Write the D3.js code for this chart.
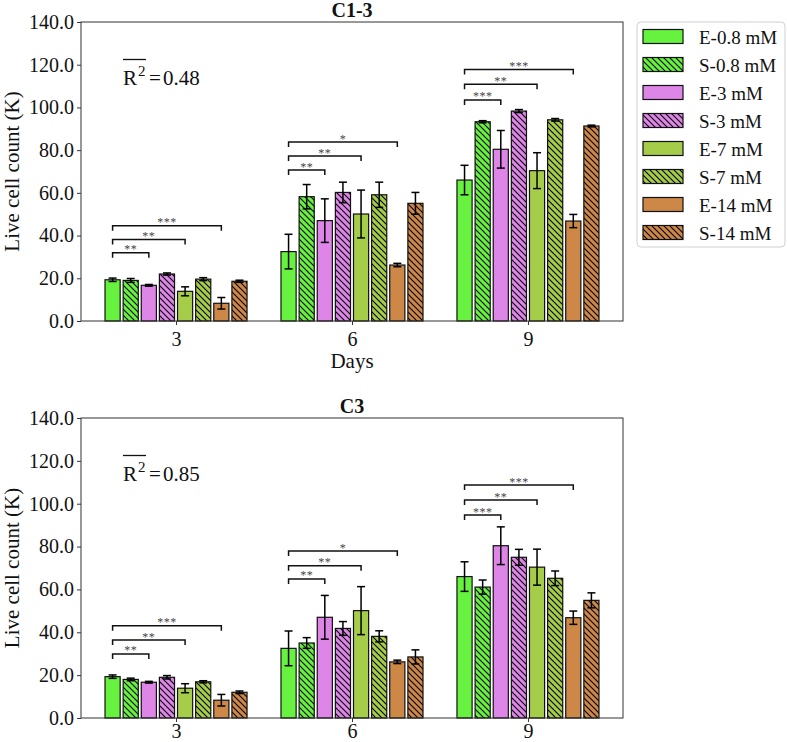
<!DOCTYPE html>
<html>
<head>
<meta charset="utf-8">
<script src="https://cdn.jsdelivr.net/npm/d3@7"></script>
<style>
  html, body { margin: 0; padding: 0; background: #fff; }
  svg { display: block; }
  text { font-family: "Liberation Serif", "Times New Roman", serif; }
</style>
</head>
<body>
<svg id="chart" width="787" height="742"></svg>
<script>
// ---------------- data ----------------
const days = ["3", "6", "9"];
const seriesNames = ["E-0.8 mM", "S-0.8 mM", "E-3 mM", "S-3 mM", "E-7 mM", "S-7 mM", "E-14 mM", "S-14 mM"];
const seriesColors = ["#66f23f", "#66f23f", "#de85e8", "#de85e8", "#a6cd4a", "#a6cd4a", "#cd8746", "#cd8746"];
const seriesHatched = [false, true, false, true, false, true, false, true];
const yTicks = [0, 20, 40, 60, 80, 100, 120, 140];

// C1-3 (rows = days, columns = series)
const c13Values = [
  [19.3, 19.0, 16.7, 22.0, 13.9, 19.6, 8.3, 18.6],
  [32.5, 58.2, 47.0, 60.2, 50.1, 59.1, 26.2, 55.1],
  [66.0, 93.3, 80.4, 98.3, 70.4, 94.2, 46.8, 91.3]
];
const c13Errors = [
  [0.8, 0.9, 0.4, 0.5, 2.1, 0.7, 2.7, 0.5],
  [8.1, 5.7, 10.2, 4.8, 11.2, 5.9, 0.8, 5.1],
  [6.9, 0.5, 8.8, 0.7, 8.4, 0.6, 3.1, 0.4]
];
// C3
const c3Values = [
  [19.3, 18.0, 16.7, 19.0, 13.9, 16.9, 8.3, 12.0],
  [32.5, 35.0, 47.0, 41.8, 50.1, 38.1, 26.2, 28.5],
  [66.0, 61.1, 80.4, 75.0, 70.4, 65.2, 46.8, 54.9]
];
const c3Errors = [
  [0.8, 0.6, 0.4, 0.8, 2.1, 0.5, 2.7, 0.6],
  [8.1, 2.5, 10.2, 3.2, 11.2, 2.6, 0.8, 3.3],
  [6.9, 3.3, 8.8, 3.7, 8.4, 3.4, 3.1, 3.5]
];

// significance brackets: pairs of series indices compared, heights (per day) and labels
const bracketPairs = [[0, 2], [0, 4], [0, 6]];
const bracketStars = [["**", "**", "***"], ["**", "**", "*"], ["***", "**", "***"]];
const c13BracketY = [[32.0, 38.2, 44.6], [70.7, 77.2, 83.8], [103.5, 110.8, 117.8]];
const c3BracketY = [[29.9, 36.4, 43.1], [64.9, 71.1, 77.9], [94.7, 101.7, 108.7]];

const r2Values = ["0.48", "0.85"];
const titles = ["C1-3", "C3"];

// ---------------- layout ----------------
const svg = d3.select("#chart");
const plotLeft = 81, plotRight = 623;
const panels = [
  { top: 22, bottom: 321, title: titles[0], values: c13Values, errors: c13Errors, brackets: c13BracketY, r2: r2Values[0], xlabel: "Days", xpad: 7 },
  { top: 418, bottom: 718, title: titles[1], values: c3Values, errors: c3Errors, brackets: c3BracketY, r2: r2Values[1], xlabel: null, xpad: 2 }
];
const barPitch = 0.103, barWidth = 0.086;

const x = d3.scaleLinear().domain([-0.54, 2.54]).range([plotLeft, plotRight]);

// hatch patterns
const defs = svg.append("defs");
seriesColors.forEach((c, i) => {
  const p = defs.append("pattern")
    .attr("id", "hatch" + i)
    .attr("patternUnits", "userSpaceOnUse")
    .attr("width", 6).attr("height", 6);
  p.append("rect").attr("width", 6).attr("height", 6).attr("fill", c);
  p.append("path").attr("d", "M0,0 L6,6 M-1,5 L1,7 M5,-1 L7,1")
    .attr("stroke", "#000").attr("stroke-width", 1.1);
});
const fillFor = i => seriesHatched[i] ? `url(#hatch${i})` : seriesColors[i];

panels.forEach(panel => {
  const y = d3.scaleLinear().domain([0, 140]).range([panel.bottom, panel.top]);
  const g = svg.append("g");

  // bars
  days.forEach((d, di) => {
    seriesNames.forEach((s, si) => {
      const cx = di + (si - 3.5) * barPitch;
      const v = panel.values[di][si];
      g.append("rect")
        .attr("x", x(cx - barWidth / 2))
        .attr("y", y(v))
        .attr("width", x(cx + barWidth / 2) - x(cx - barWidth / 2))
        .attr("height", y(0) - y(v))
        .attr("fill", fillFor(si))
        .attr("stroke", "#111")
        .attr("stroke-width", 1.2);
    });
  });
  // error bars
  days.forEach((d, di) => {
    seriesNames.forEach((s, si) => {
      const cx = x(di + (si - 3.5) * barPitch);
      const v = panel.values[di][si], e = panel.errors[di][si];
      const eg = g.append("g").attr("stroke", "#000").attr("stroke-width", 1.5);
      eg.append("line").attr("x1", cx).attr("x2", cx).attr("y1", y(v - e)).attr("y2", y(v + e));
      eg.append("line").attr("x1", cx - 4).attr("x2", cx + 4).attr("y1", y(v - e)).attr("y2", y(v - e));
      eg.append("line").attr("x1", cx - 4).attr("x2", cx + 4).attr("y1", y(v + e)).attr("y2", y(v + e));
    });
  });
  // significance brackets
  days.forEach((d, di) => {
    bracketPairs.forEach((pair, bi) => {
      const x1 = x(di + (pair[0] - 3.5) * barPitch);
      const x2 = x(di + (pair[1] - 3.5) * barPitch);
      const yy = y(panel.brackets[di][bi]);
      g.append("path")
        .attr("d", `M${x1},${yy + 5}V${yy}H${x2}V${yy + 5}`)
        .attr("fill", "none").attr("stroke", "#111").attr("stroke-width", 1.5);
      g.append("text")
        .attr("x", (x1 + x2) / 2).attr("y", yy + 0.5)
        .attr("text-anchor", "middle")
        .attr("font-size", 12).attr("fill", "#444")
        .attr("letter-spacing", 0.5)
        .text(bracketStars[di][bi]);
    });
  });

  // axes
  const yAxis = d3.axisLeft(y).tickValues(yTicks).tickFormat(d3.format(".1f")).tickSize(4).tickPadding(3);
  const ya = g.append("g").attr("transform", `translate(${plotLeft},0)`).call(yAxis);
  ya.select(".domain").remove();
  ya.selectAll("text").attr("font-size", 20).attr("fill", "#111").style("font-family", '"Liberation Serif", serif');
  ya.selectAll("line").attr("stroke", "#333");

  const xAxis = d3.axisBottom(x).tickValues([0, 1, 2]).tickFormat(i => days[i]).tickSize(4).tickPadding(panel.xpad);
  const xa = g.append("g").attr("transform", `translate(0,${panel.bottom})`).call(xAxis);
  xa.select(".domain").remove();
  xa.selectAll("text").attr("font-size", 20).attr("fill", "#111").style("font-family", '"Liberation Serif", serif');
  xa.selectAll("line").attr("stroke", "#333");

  // frame
  g.append("rect")
    .attr("x", plotLeft).attr("y", panel.top)
    .attr("width", plotRight - plotLeft).attr("height", panel.bottom - panel.top)
    .attr("fill", "none").attr("stroke", "#333").attr("stroke-width", 1);

  // title
  g.append("text")
    .attr("x", (plotLeft + plotRight) / 2).attr("y", panel.top - 5)
    .attr("text-anchor", "middle").attr("font-size", 20).attr("font-weight", "bold")
    .attr("fill", "#111").text(panel.title);

  // y label
  g.append("text")
    .attr("transform", `translate(19,${(panel.top + panel.bottom) / 2}) rotate(-90)`)
    .attr("text-anchor", "middle").attr("font-size", 21).attr("fill", "#111")
    .text("Live cell count (K)");

  // x label
  if (panel.xlabel) {
    g.append("text")
      .attr("x", (plotLeft + plotRight) / 2).attr("y", panel.bottom + 47)
      .attr("text-anchor", "middle").attr("font-size", 21).attr("fill", "#111")
      .text(panel.xlabel);
  }

  // R^2 annotation
  const rx = 123, rb = panel.top + 63;
  g.append("line").attr("x1", rx).attr("x2", rx + 23).attr("y1", panel.top + 37.5).attr("y2", panel.top + 37.5)
    .attr("stroke", "#111").attr("stroke-width", 1.3);
  g.append("text").attr("x", rx).attr("y", rb).attr("font-size", 21).attr("fill", "#111").text("R");
  g.append("text").attr("x", rx + 15).attr("y", rb - 9).attr("font-size", 15).attr("fill", "#111").text("2");
  g.append("text").attr("x", rx + 26).attr("y", rb).attr("font-size", 21).attr("fill", "#111").text("=");
  g.append("text").attr("x", rx + 40).attr("y", rb).attr("font-size", 21).attr("fill", "#111").text(panel.r2);
});

// legend
const lg = svg.append("g");
lg.append("rect").attr("x", 637).attr("y", 22).attr("width", 148).attr("height", 225)
  .attr("rx", 4).attr("fill", "#fff").attr("stroke", "#d0d0d0").attr("stroke-width", 1);
seriesNames.forEach((s, i) => {
  const yy = 29.5 + 28 * i;
  lg.append("rect").attr("x", 643).attr("y", yy).attr("width", 40).attr("height", 14)
    .attr("fill", fillFor(i)).attr("stroke", "#111").attr("stroke-width", 1.2);
  lg.append("text").attr("x", 699).attr("y", yy + 14).attr("font-size", 19).attr("fill", "#111").text(s);
});
</script>
</body>
</html>
